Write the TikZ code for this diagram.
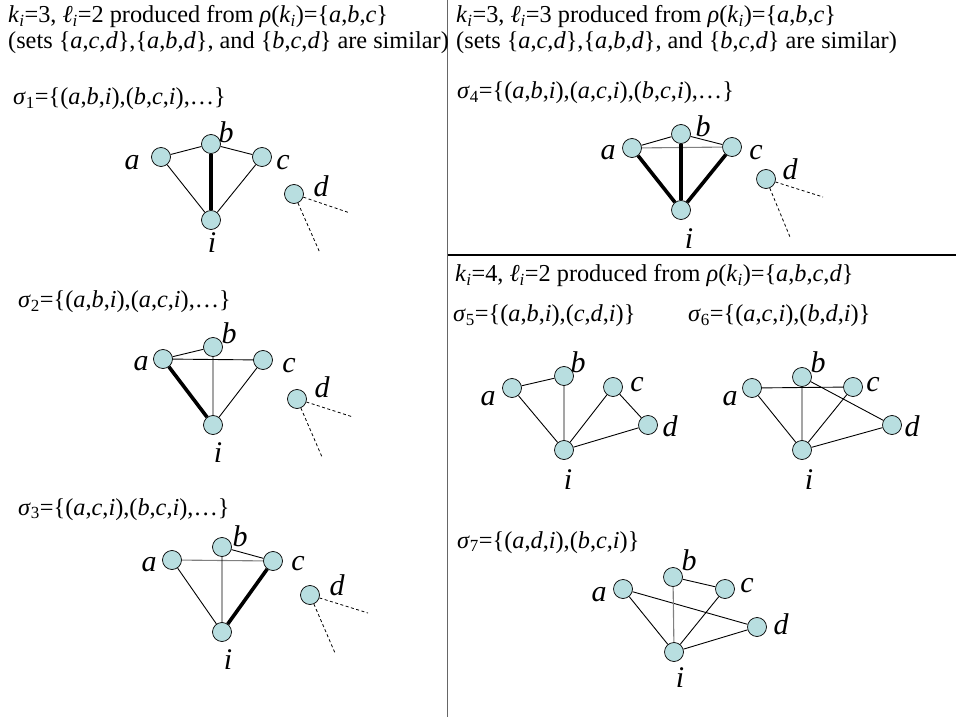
\documentclass[tikz,border=0pt]{standalone}
\usepackage{fontspec}
\setmainfont{Liberation Serif}
\definecolor{VertexClr}{rgb}{0.72,0.87,0.88}
\definecolor{GrayEdgeClr}{rgb}{0.5,0.5,0.5}
\definecolor{FrameClr}{rgb}{0.4,0.4,0.4}
\newcommand{\kI}{\textit{k}\textsubscript{\textit{i}}}
\newcommand{\lI}{\textit{ℓ}\textsubscript{\textit{i}}}
\newcommand{\sig}[1]{\textit{σ}\textsubscript{#1}}
\newcommand{\tpl}[3]{(\textit{#1},\textit{#2},\textit{#3})}
\newcommand{\trio}[3]{\{\textit{#1},\textit{#2},\textit{#3}\}}
\tikzset{
  vertex/.style={circle,draw=black,fill=VertexClr,minimum size=19pt,inner sep=0pt,line width=0.7pt},
  vlabel/.style={inner sep=0pt,font=\fontsize{30}{30}\selectfont\itshape},
  caption/.style={anchor=base west,inner sep=0pt,font=\fontsize{24.3}{26}\selectfont},
  thinedge/.style={line width=0.9pt},
  heavyedge/.style={line width=3.6pt},
  grayedge/.style={line width=1.1pt,color=GrayEdgeClr},
  loose/.style={line width=0.8pt,dash pattern=on 3pt off 2.5pt}
}

\begin{document}
\begin{tikzpicture}[x=1pt,y=-1pt]
\fill[white] (0,0) rectangle (956,719);
\useasboundingbox (0,0) rectangle (956,719);

\draw[FrameClr,line width=1.6pt] (447.5,0) -- (447.5,717);
\draw[black,line width=1.2pt] (447.5,255) -- (956,255);

\node[caption] (headA) at (8,23) {\kI=3, \lI=2 produced from \textit{ρ}(\kI)=\trio{a}{b}{c}};
\node[caption] (subA) at (8,49) {(sets \trio{a}{c}{d},\trio{a}{b}{d}, and \trio{b}{c}{d} are similar)};
\node[caption] (headB) at (456,23) {\kI=3, \lI=3 produced from \textit{ρ}(\kI)=\trio{a}{b}{c}};
\node[caption] (subB) at (456,49) {(sets \trio{a}{c}{d},\trio{a}{b}{d}, and \trio{b}{c}{d} are similar)};
\node[caption] (headC) at (455,282) {\kI=4, \lI=2 produced from \textit{ρ}(\kI)=\{\textit{a},\textit{b},\textit{c},\textit{d}\}};

\node[caption] (sig1) at (13,105) {\sig{1}=\{\tpl{a}{b}{i},\tpl{b}{c}{i},…\}};
\node[caption] (sig2) at (18,308) {\sig{2}=\{\tpl{a}{b}{i},\tpl{a}{c}{i},…\}};
\node[caption] (sig3) at (18,515) {\sig{3}=\{\tpl{a}{c}{i},\tpl{b}{c}{i},…\}};
\node[caption] (sig4) at (457,99) {\sig{4}=\{\tpl{a}{b}{i},\tpl{a}{c}{i},\tpl{b}{c}{i},…\}};
\node[caption] (sig5) at (453,322) {\sig{5}=\{\tpl{a}{b}{i},\tpl{c}{d}{i}\}};
\node[caption] (sig6) at (688,322) {\sig{6}=\{\tpl{a}{c}{i},\tpl{b}{d}{i}\}};
\node[caption] (sig7) at (457,548) {\sig{7}=\{\tpl{a}{d}{i},\tpl{b}{c}{i}\}};

\node[vertex] (a1) at (161,157) {};
\node[vertex] (b1) at (211,144) {};
\node[vertex] (c1) at (262,157) {};
\node[vertex] (i1) at (211,220) {};
\node[vertex] (d1) at (294,194) {};
\coordinate (e1) at (350,213);
\coordinate (f1) at (320,253);
\draw[thinedge] (a1) -- (b1) -- (c1) -- (i1) -- (a1);
\draw[heavyedge] (b1) -- (i1);
\draw[loose] (d1) -- (e1);
\draw[loose] (d1) -- (f1);
\node[vlabel] (la1) at (132,163) {a};
\node[vlabel] (lb1) at (226,132) {b};
\node[vlabel] (lc1) at (283,163) {c};
\node[vlabel] (ld1) at (321,186) {d};
\node[vlabel] (li1) at (212,243) {i};

\node[vertex] (a2) at (163,359) {};
\node[vertex] (b2) at (213,347) {};
\node[vertex] (c2) at (263,360) {};
\node[vertex] (i2) at (213,425) {};
\node[vertex] (d2) at (297,399) {};
\coordinate (e2) at (353,417);
\coordinate (f2) at (322,457);
\draw[thinedge] (a2) -- (b2);
\draw[thinedge] (a2) -- (c2) -- (i2) -- (b2);
\draw[heavyedge] (a2) -- (i2);
\draw[loose] (d2) -- (e2);
\draw[loose] (d2) -- (f2);
\node[vlabel] (la2) at (141,364) {a};
\node[vlabel] (lb2) at (229,333) {b};
\node[vlabel] (lc2) at (289,366) {c};
\node[vlabel] (ld2) at (322,387) {d};
\node[vlabel] (li2) at (218,453) {i};

\node[vertex] (a3) at (172,560) {};
\node[vertex] (b3) at (222,547) {};
\node[vertex] (c3) at (273,561) {};
\node[vertex] (i3) at (222,632) {};
\node[vertex] (d3) at (310,595) {};
\coordinate (e3) at (368,613);
\coordinate (f3) at (335,653);
\draw[grayedge] (a3) -- (c3);
\draw[thinedge] (b3) -- (c3);
\draw[thinedge] (a3) -- (i3) -- (b3);
\draw[heavyedge] (c3) -- (i3);
\draw[loose] (d3) -- (e3);
\draw[loose] (d3) -- (f3);
\node[vlabel] (la3) at (149,565) {a};
\node[vlabel] (lb3) at (240,536) {b};
\node[vlabel] (lc3) at (298,564) {c};
\node[vlabel] (ld3) at (337,585) {d};
\node[vlabel] (li3) at (228,660) {i};

\node[vertex] (a4) at (632,148) {};
\node[vertex] (b4) at (681,134) {};
\node[vertex] (c4) at (732,147) {};
\node[vertex] (i4) at (681,210) {};
\node[vertex] (d4) at (766,179) {};
\coordinate (e4) at (823,197);
\coordinate (f4) at (790,237);
\draw[grayedge] (a4) -- (c4);
\draw[thinedge] (a4) -- (b4) -- (c4);
\draw[heavyedge] (a4) -- (i4);
\draw[heavyedge] (b4) -- (i4);
\draw[heavyedge] (c4) -- (i4);
\draw[loose] (d4) -- (e4);
\draw[loose] (d4) -- (f4);
\node[vlabel] (la4) at (608,153) {a};
\node[vlabel] (lb4) at (703,126) {b};
\node[vlabel] (lc4) at (756,153) {c};
\node[vlabel] (ld4) at (790,169) {d};
\node[vlabel] (li4) at (689,239) {i};

\node[vertex] (a5) at (512,388) {};
\node[vertex] (b5) at (564,376) {};
\node[vertex] (c5) at (613,387) {};
\node[vertex] (d5) at (648,425) {};
\node[vertex] (i5) at (564,450) {};
\draw[thinedge] (a5) -- (b5) -- (i5) -- (a5);
\draw[thinedge] (c5) -- (d5) -- (i5) -- (c5);
\node[vlabel] (la5) at (488,399) {a};
\node[vlabel] (lb5) at (578,362) {b};
\node[vlabel] (lc5) at (637,385) {c};
\node[vlabel] (ld5) at (670,426) {d};
\node[vlabel] (li5) at (568,480) {i};

\node[vertex] (a6) at (752,388) {};
\node[vertex] (b6) at (802,377) {};
\node[vertex] (c6) at (853,387) {};
\node[vertex] (d6) at (892,425) {};
\node[vertex] (i6) at (802,450) {};
\draw[thinedge] (a6) -- (c6) -- (i6) -- (a6);
\draw[thinedge] (b6) -- (d6) -- (i6) -- (b6);
\node[vlabel] (la6) at (730,399) {a};
\node[vlabel] (lb6) at (818,362) {b};
\node[vlabel] (lc6) at (873,385) {c};
\node[vlabel] (ld6) at (912,426) {d};
\node[vlabel] (li6) at (809,480) {i};

\node[vertex] (a7) at (623,589) {};
\node[vertex] (b7) at (673,577) {};
\node[vertex] (c7) at (725,589) {};
\node[vertex] (d7) at (757,627) {};
\node[vertex] (i7) at (674,652) {};
\draw[thinedge] (a7) -- (d7) -- (i7) -- (a7);
\draw[thinedge] (b7) -- (c7) -- (i7);
\draw[grayedge] (b7) -- (i7);
\node[vlabel] (la7) at (599,595) {a};
\node[vlabel] (lb7) at (689,560) {b};
\node[vlabel] (lc7) at (747,586) {c};
\node[vlabel] (ld7) at (781,624) {d};
\node[vlabel] (li7) at (680,678) {i};
\end{tikzpicture}
\end{document}
